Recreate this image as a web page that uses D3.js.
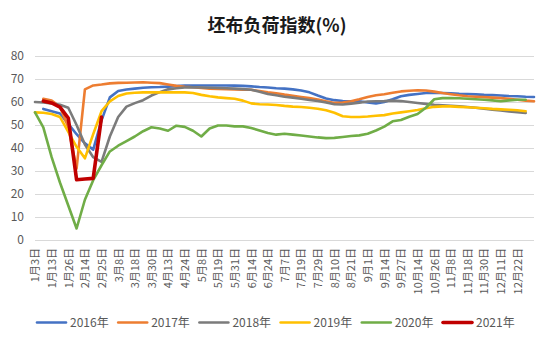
<!DOCTYPE html>
<html><head><meta charset="utf-8">
<script src="https://cdn.jsdelivr.net/npm/d3@7"></script>
<style>
html,body{margin:0;padding:0;background:#fff;}
svg{display:block;font-family:"Noto Sans CJK SC","Noto Sans",sans-serif;}
</style></head>
<body>
<svg id="chart" width="550" height="344"></svg>
<script>
const title = "坯布负荷指数(%)";
const categories = ["1月3日","1月8日","1月13日","1月20日","1月26日","2月5日","2月14日","2月20日","2月25日","3月3日",
"3月8日","3月13日","3月18日","3月24日","3月30日","4月6日","4月13日","4月19日","4月24日","5月1日",
"5月8日","5月13日","5月19日","5月25日","5月31日","6月7日","6月14日","6月19日","6月24日","7月1日",
"7月7日","7月13日","7月19日","7月24日","7月29日","8月4日","8月10日","8月15日","8月21日","8月26日",
"9月1日","9月7日","9月14日","9月20日","9月27日","10月7日","10月14日","10月20日","10月26日","11月2日",
"11月8日","11月13日","11月18日","11月24日","11月30日","12月5日","12月11日","12月16日","12月22日","12月27日","12月31日"];
const tickLabels = ["1月3日","1月13日","1月26日","2月14日","2月25日","3月8日","3月18日","3月30日","4月13日","4月24日",
"5月8日","5月19日","5月31日","6月14日","6月24日","7月7日","7月19日","7月29日","8月10日","8月21日",
"9月1日","9月14日","9月27日","10月14日","10月26日","11月8日","11月18日","11月30日","12月11日","12月22日"];
const yTicks = [0,10,20,30,40,50,60,70,80];
const seriesNames = ["2016年","2017年","2018年","2019年","2020年","2021年"];
const seriesColors = ["#4472C4","#ED7D31","#7B7B7B","#FFC000","#70AD47","#C00000"];

const v2016 = [null,57,56,55,50.5,46,42,39.3,52,62,64.8,65.4,65.8,66.2,66.4,66.5,66.7,66.9,67.1,67.2,
67.2,67.2,67.2,67.2,67.1,67,66.8,66.5,66.3,66,65.8,65.5,65,64.2,62.8,61.5,60.8,60.4,60.3,60.3,
59.8,59.4,60,61.2,62.5,63.1,63.5,63.9,63.9,63.9,63.8,63.6,63.5,63.3,63.1,63,62.8,62.6,62.5,62.3,62.2];
const v2017 = [null,61.4,60.6,58,49,31,65.5,67.2,67.6,68.1,68.3,68.4,68.5,68.6,68.4,68.2,67.6,67,66.6,66.4,
66.1,65.8,65.7,65.6,65.5,65.4,65.3,64.8,64.2,63.8,63.2,62.7,62.2,61.7,61.1,60.3,59.6,59.8,60.3,61.2,
62.2,62.9,63.4,64,64.6,64.9,65.1,65,64.5,63.9,63.4,62.9,62.5,62.3,62.1,61.9,61.7,61.4,61,60.6,60.3];
const v2018 = [60,59.8,59.4,58.8,57.5,50,41.5,36,34,45,53.5,58,59.5,60.8,62.8,64.3,65.5,66,66.3,66.4,
66.3,66.2,66.1,66,65.8,65.6,65.3,64.5,63.5,62.9,62.3,61.9,61.4,60.9,60.4,59.8,59,58.9,59.3,59.7,
60.2,60.3,60.4,60.6,60.4,60,59.6,59.2,58.8,58.6,58.4,58.1,57.8,57.5,57.1,56.7,56.3,55.9,55.6,55.2,null];
const v2019 = [55.5,55.3,54.8,53.5,47,40.5,35.5,46,56,60.3,62.6,63.7,64,64.2,64.2,64.2,64.2,64.2,64.2,63.9,
63.1,62.5,62,61.7,61.4,60.6,59.4,59,58.9,58.7,58.3,58,57.8,57.5,57.1,56.4,55.3,53.8,53.5,53.5,
53.7,54,54.3,55,55.5,56,56.5,57.3,57.9,58.1,58.1,57.9,57.7,57.5,57.3,57,56.8,56.6,56.4,56,null];
const v2020 = [55.5,49,36,25,15,5,17.5,26,32.5,38.5,41,43,45,47.3,49,48.5,47.5,49.7,49.2,47.5,
45,48.5,49.8,49.8,49.4,49.4,48.7,47.6,46.5,45.8,46.2,45.8,45.4,45,44.6,44.3,44.4,44.8,45.2,45.5,
46.2,47.6,49.3,51.6,52.2,53.6,54.8,57.5,61.2,61.7,61.7,61.6,61.4,61.2,61,60.7,60.3,60.7,61,61,null];
const v2021 = [null,60.4,59.6,57.8,53,26.2,26.5,26.8,53.5];

const seriesValues = [v2016,v2017,v2018,v2019,v2020,v2021];
const seriesWidths = [2.6,2.6,2.6,2.6,2.6,3.6];

const svg = d3.select("#chart");
const plotLeft = 35, plotRight = 534, plotTop = 56, plotBottom = 240;

const x = d3.scalePoint().domain(categories).range([plotLeft, plotRight]);
const y = d3.scaleLinear().domain([0, 80]).range([plotBottom, plotTop]);

svg.append("text").attr("x", 277).attr("y", 32).attr("text-anchor", "middle")
  .attr("font-size", 18).attr("font-weight", "bold").attr("fill", "#1a1a1a").text(title);

// gridlines
svg.append("g").selectAll("line").data(yTicks).join("line")
  .attr("x1", plotLeft).attr("x2", plotRight)
  .attr("y1", d => y(d)).attr("y2", d => y(d))
  .attr("stroke", "#D9D9D9").attr("stroke-width", 1).attr("shape-rendering", "crispEdges");

// y axis
const yAxis = svg.append("g").attr("transform", `translate(${plotLeft},0)`)
  .call(d3.axisLeft(y).tickValues(yTicks).tickSize(0).tickPadding(11).tickFormat(d3.format("d")));
yAxis.select(".domain").remove();
yAxis.selectAll("text").attr("font-size", 12).attr("fill", "#595959")
  .attr("font-family", '"Noto Sans CJK SC","Noto Sans",sans-serif');

// x axis
const xAxis = svg.append("g").attr("transform", `translate(0,${plotBottom})`)
  .call(d3.axisBottom(x).tickValues(tickLabels).tickSize(0));
xAxis.select(".domain").remove();
xAxis.selectAll("text")
  .attr("font-size", 11).attr("fill", "#595959")
  .attr("font-family", '"Noto Sans CJK SC","Noto Sans",sans-serif')
  .attr("text-anchor", "end")
  .attr("transform", "rotate(-90)")
  .attr("x", -8).attr("y", 0).attr("dy", "0.35em");

// lines
const line = d3.line().x(d => x(d.c)).y(d => y(d.v)).curve(d3.curveLinear);
seriesValues.forEach((vals, si) => {
  const pts = vals.map((v, i) => ({c: categories[i], v})).filter(d => d.v !== null);
  svg.append("path").datum(pts)
    .attr("fill", "none").attr("stroke", seriesColors[si])
    .attr("stroke-width", seriesWidths[si])
    .attr("stroke-linejoin", "round").attr("stroke-linecap", "round")
    .attr("d", line);
});

// legend
const legX = d3.scaleLinear().domain([0, seriesNames.length - 1]).range([37, 443]);
const leg = svg.append("g").selectAll("g").data(seriesNames).join("g")
  .attr("transform", (d, i) => `translate(${legX(i)},322.5)`);
leg.append("line").attr("x1", 0).attr("x2", 29).attr("y1", 0).attr("y2", 0)
  .attr("stroke", (d, i) => seriesColors[i]).attr("stroke-width", (d, i) => seriesWidths[i])
  .attr("stroke-linecap", "round");
leg.append("text").attr("x", 33).attr("y", 0).attr("dy", "0.35em")
  .attr("font-size", 12).attr("fill", "#595959").text(d => d);
</script>
</body></html>
